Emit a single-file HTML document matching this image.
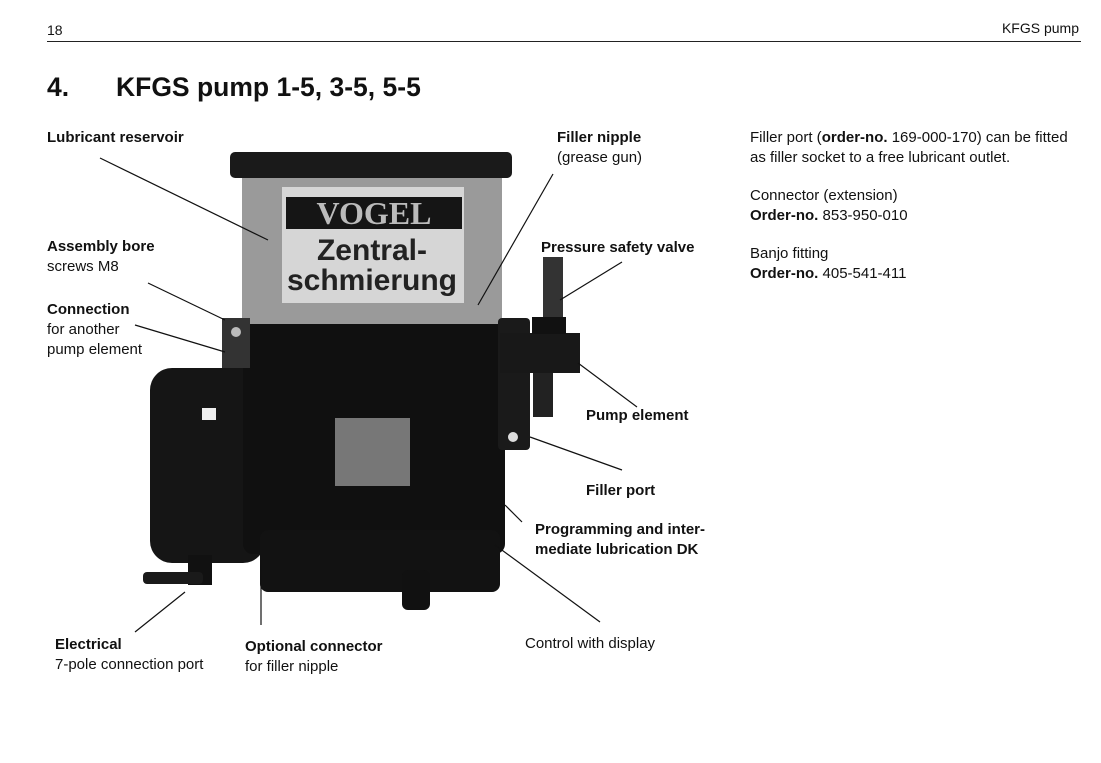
<!DOCTYPE html>
<html><head><meta charset="utf-8"><style>
body{margin:0;width:1101px;height:763px;background:#fff;position:relative;overflow:hidden;font-family:"Liberation Sans",Arial,sans-serif;color:#111}
.t{position:absolute;font-size:15px;line-height:20px;white-space:nowrap}
b{font-weight:bold}
</style></head><body>
<div class="t" style="left:47px;top:20px;font-size:14px">18</div>
<div class="t" style="right:22px;top:18px;font-size:14px">KFGS pump</div>
<div style="position:absolute;left:47px;top:41px;width:1034px;height:1px;background:#222"></div>
<div style="position:absolute;left:47px;top:72px;font-size:26.5px;font-weight:bold">4.</div>
<div style="position:absolute;left:116px;top:72px;font-size:26.5px;font-weight:bold">KFGS pump 1-5, 3-5, 5-5</div>

<svg style="position:absolute;left:0;top:0" width="1101" height="763">
<rect x="150" y="368" width="115" height="195" rx="22" fill="#151515"/>
<rect x="243" y="318" width="262" height="236" rx="10" fill="#101010"/>
<rect x="260" y="530" width="240" height="62" rx="8" fill="#121212"/>
<rect x="402" y="570" width="28" height="40" rx="6" fill="#111"/>
<rect x="188" y="555" width="24" height="30" fill="#111"/>
<rect x="143" y="572" width="60" height="12" rx="4" fill="#1a1a1a"/>
<rect x="242" y="176" width="260" height="148" fill="#9a9a9a"/>
<rect x="282" y="187" width="182" height="116" fill="#d6d6d6"/>
<rect x="286" y="197" width="176" height="32" fill="#151515"/>
<text x="374" y="224" text-anchor="middle" font-family="Liberation Serif" font-weight="bold" font-size="32" fill="#bbb">VOGEL</text>
<text x="372" y="260" text-anchor="middle" font-weight="bold" font-size="30" fill="#222">Zentral-</text>
<text x="372" y="290" text-anchor="middle" font-weight="bold" font-size="30" fill="#222">schmierung</text>
<rect x="230" y="152" width="282" height="26" rx="5" fill="#1a1a1a"/>
<rect x="335" y="418" width="75" height="68" fill="#777"/>
<rect x="202" y="408" width="14" height="12" fill="#eee"/>
<rect x="222" y="318" width="28" height="50" fill="#333"/>
<circle cx="236" cy="332" r="5" fill="#bbb"/>
<rect x="498" y="318" width="32" height="132" rx="4" fill="#1a1a1a"/>
<circle cx="513" cy="437" r="5" fill="#ddd"/>
<rect x="500" y="333" width="80" height="40" fill="#181818"/>
<rect x="543" y="257" width="20" height="62" fill="#333"/>
<rect x="532" y="317" width="34" height="17" fill="#111"/>
<rect x="533" y="373" width="20" height="44" fill="#222"/>
<g stroke="#111" stroke-width="1.2">
<line x1="100" y1="158" x2="268" y2="240"/>
<line x1="553" y1="174" x2="478" y2="305"/>
<line x1="148" y1="283" x2="225" y2="320"/>
<line x1="135" y1="325" x2="225" y2="352"/>
<line x1="622" y1="262" x2="560" y2="300"/>
<line x1="637" y1="407" x2="578" y2="363"/>
<line x1="622" y1="470" x2="530" y2="437"/>
<line x1="522" y1="522" x2="505" y2="505"/>
<line x1="600" y1="622" x2="495" y2="545"/>
<line x1="135" y1="632" x2="185" y2="592"/>
<line x1="261" y1="560" x2="261" y2="625"/>
</g>
</svg>

<div class="t" style="left:47px;top:128px"><b>Lubricant reservoir</b></div>
<div class="t" style="left:47px;top:237px"><b>Assembly bore</b><br>screws M8</div>
<div class="t" style="left:47px;top:300px"><b>Connection</b><br>for another<br>pump element</div>
<div class="t" style="left:557px;top:128px"><b>Filler nipple</b><br>(grease gun)</div>
<div class="t" style="left:541px;top:238px"><b>Pressure safety valve</b></div>
<div class="t" style="left:586px;top:406px"><b>Pump element</b></div>
<div class="t" style="left:586px;top:481px"><b>Filler port</b></div>
<div class="t" style="left:535px;top:520px"><b>Programming and inter-<br>mediate lubrication DK</b></div>
<div class="t" style="left:55px;top:635px"><b>Electrical</b><br>7-pole connection port</div>
<div class="t" style="left:245px;top:637px"><b>Optional connector</b><br>for filler nipple</div>
<div class="t" style="left:525px;top:634px">Control with display</div>
<div class="t" style="left:750px;top:128px">Filler port (<b>order-no.</b> 169-000-170) can be fitted<br>as filler socket to a free lubricant outlet.</div>
<div class="t" style="left:750px;top:186px">Connector (extension)<br><b>Order-no.</b> 853-950-010</div>
<div class="t" style="left:750px;top:244px">Banjo fitting<br><b>Order-no.</b> 405-541-411</div>
</body></html>
